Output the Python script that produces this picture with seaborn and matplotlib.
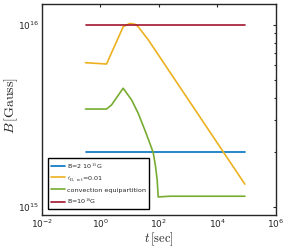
import numpy as np
import pandas as pd
import matplotlib
matplotlib.use("Agg")
import matplotlib.pyplot as plt
import matplotlib.ticker as mticker
import seaborn as sns

# ---- data ----
t_blue = [0.31, 8.7e4]
B_blue = [2e15, 2e15]

t_orange = [0.31, 1.62, 6.03, 10.2, 15.1, 19.5, 42.7, 8.7e4]
B_orange = [6.21e15, 6.11e15, 9.79e15, 1.02e16, 1.01e16, 9.79e15, 8.32e15, 1.34e15]

t_green = [0.31, 1.62, 2.4, 6.0, 11.7, 19.6, 33.2, 49.2, 63.8, 77.1, 87.5, 94.6, 240, 8.7e4]
B_green = [3.46e15, 3.46e15, 3.64e15, 4.5e15, 3.88e15, 3.28e15, 2.65e15, 2.24e15, 2.0e15, 1.67e15,
           1.41e15, 1.14e15, 1.15e15, 1.15e15]

t_red = [0.31, 8.7e4]
B_red = [1e16, 1e16]

labels = [r"B=2 10$^{15}$G", r"$\epsilon_{\rm B,\ rot}$=0.01",
          "convection equipartition", r"B=10$^{16}$G"]
colors = ["#0072BD", "#EDB120", "#77AC30", "#A2142F"]

sns.set_style("white")
plt.rcParams["font.family"] = ["DejaVu Sans"]
plt.rcParams["mathtext.fontset"] = "cm"

fig = plt.figure(figsize=(2.85, 2.52), dpi=100)
ax = fig.add_axes([0.147, 0.147, 0.821, 0.837])

series = [(t_blue, B_blue), (t_orange, B_orange), (t_green, B_green), (t_red, B_red)]
for (t, B), lab, c in zip(series, labels, colors):
    df = pd.DataFrame({"t": t, "B": B})
    sns.lineplot(data=df, x="t", y="B", ax=ax, color=c, lw=1.2, label=lab,
                 sort=False, estimator=None)

ax.set_xscale("log")
ax.set_yscale("log")
ax.set_xlim(1e-2, 1e6)
ax.set_ylim(10**14.958, 10**16.115)

ax.xaxis.set_major_locator(mticker.FixedLocator([1e-2, 1, 1e2, 1e4, 1e6]))
ax.xaxis.set_minor_locator(mticker.NullLocator())
ax.yaxis.set_major_locator(mticker.FixedLocator([1e15, 1e16]))
ax.yaxis.set_minor_locator(mticker.LogLocator(base=10, subs=np.arange(2, 10)))
ax.yaxis.set_minor_formatter(mticker.NullFormatter())
ax.xaxis.set_major_formatter(mticker.LogFormatterSciNotation())
ax.yaxis.set_major_formatter(mticker.LogFormatterSciNotation())

ax.tick_params(which="both", direction="in", top=True, right=True,
               labelsize=6.5, colors="#262626", width=0.8, pad=2)
ax.tick_params(which="major", length=2.5)
ax.tick_params(which="minor", length=1.5)
for s in ax.spines.values():
    s.set_color("#262626")
    s.set_linewidth(1.0)

ax.set_xlabel(r"$t\,[\mathrm{sec}]$", fontsize=9, labelpad=0)
ax.set_ylabel(r"$B\,[\mathrm{Gauss}]$", fontsize=10)
ax.yaxis.set_label_coords(-0.095, 0.52)

leg = ax.legend(loc="lower left", fontsize=4.6, frameon=True, fancybox=False,
                borderpad=0.45, handlelength=2.2, handletextpad=0.3,
                labelspacing=0.55, borderaxespad=0.95)
leg.get_frame().set_edgecolor("black")
leg.get_frame().set_linewidth(1.0)
leg.get_frame().set_alpha(1)

fig.savefig("out.png", dpi=100)
